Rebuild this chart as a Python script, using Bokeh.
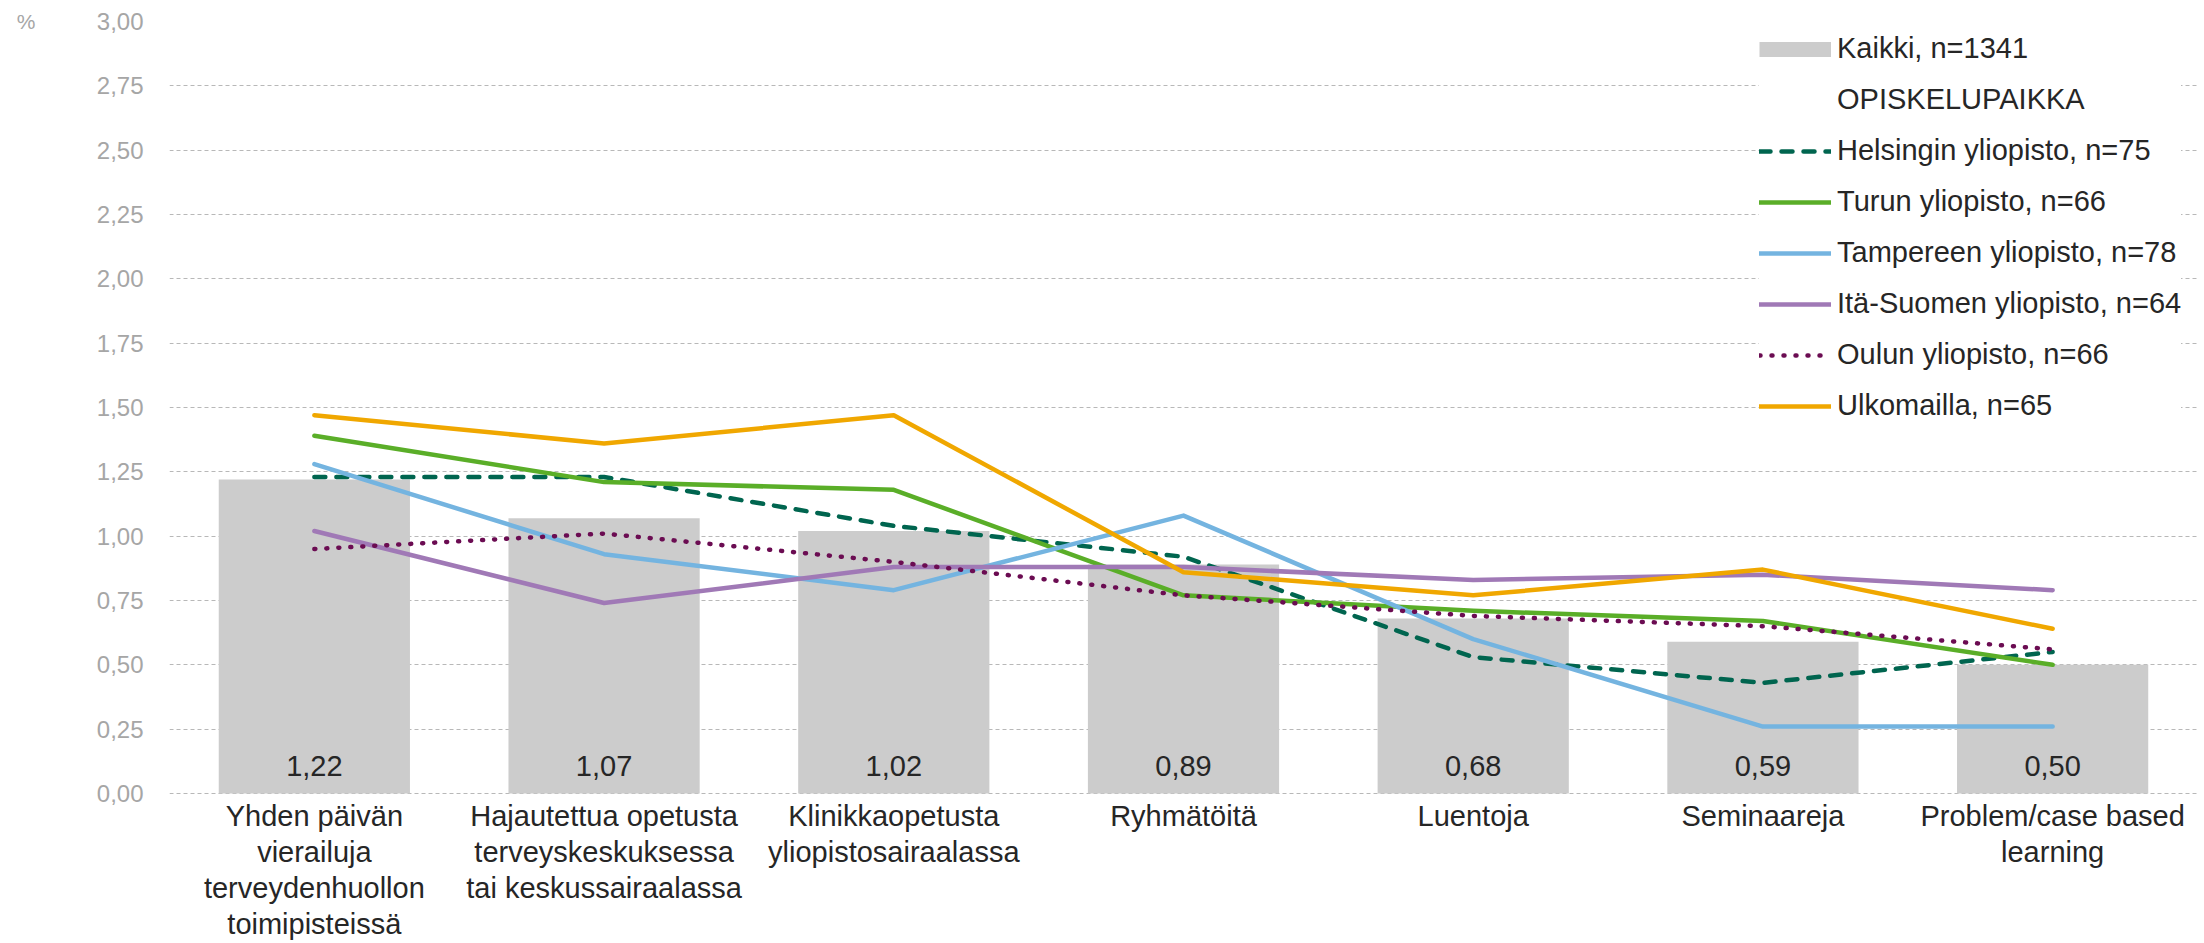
from bokeh.plotting import figure
from bokeh.models import (FactorRange, Range1d, FixedTicker, Legend, LegendItem,
                          ColumnDataSource, LinearAxis)
from bokeh.embed import file_html
from bokeh.resources import INLINE
from bokeh.core.properties import value

# ---------------- data ----------------
categories = [
    "Yhden päivän vierailuja terveydenhuollon toimipisteissä",
    "Hajautettua opetusta terveyskeskuksessa tai keskussairaalassa",
    "Klinikkaopetusta yliopistosairaalassa",
    "Ryhmätöitä",
    "Luentoja",
    "Seminaareja",
    "Problem/case based learning",
]
category_labels = [
    "Yhden päivän\nvierailuja\nterveydenhuollon\ntoimipisteissä",
    "Hajautettua opetusta\nterveyskeskuksessa\ntai keskussairaalassa",
    "Klinikkaopetusta\nyliopistosairaalassa",
    "Ryhmätöitä",
    "Luentoja",
    "Seminaareja",
    "Problem/case based\nlearning",
]
kaikki = [1.22, 1.07, 1.02, 0.89, 0.68, 0.59, 0.50]
helsinki = [1.23, 1.23, 1.04, 0.92, 0.53, 0.43, 0.55]
turku = [1.39, 1.21, 1.18, 0.77, 0.71, 0.67, 0.50]
tampere = [1.28, 0.93, 0.79, 1.08, 0.60, 0.26, 0.26]
ita_suomi = [1.02, 0.74, 0.88, 0.88, 0.83, 0.85, 0.79]
oulu = [0.95, 1.01, 0.90, 0.77, 0.69, 0.65, 0.56]
ulkomailla = [1.47, 1.36, 1.47, 0.86, 0.77, 0.87, 0.64]

kaikki_name = "Kaikki, n=1341"
group_header = "OPISKELUPAIKKA"
series_names = [
    "Helsingin yliopisto, n=75",
    "Turun yliopisto, n=66",
    "Tampereen yliopisto, n=78",
    "Itä-Suomen yliopisto, n=64",
    "Oulun yliopisto, n=66",
    "Ulkomailla, n=65",
]
y_ticks = [0.0, 0.25, 0.5, 0.75, 1.0, 1.25, 1.5, 1.75, 2.0, 2.25, 2.5, 2.75, 3.0]
y_tick_labels = ["0,00", "0,25", "0,50", "0,75", "1,00", "1,25", "1,50",
                 "1,75", "2,00", "2,25", "2,50", "2,75", "3,00"]
unit_label = "%"

# ---------------- styles / layout ----------------
FONT = "Liberation Sans"
series_values = [helsinki, turku, tampere, ita_suomi, oulu, ulkomailla]
series_colors = ["#00654f", "#5aae28", "#74b4e0", "#a079b6", "#6b0c52", "#f0a700"]
series_dash = ["11 11", "solid", "solid", "solid", "1 11", "solid"]

# value axis 0..3 occupies the upper 772 px of the 922 px frame;
# the strip below 0 carries the category names
Y_MIN = -0.583
CAT_LABEL_Y = -0.026
BAR_LABEL_Y = 0.107

p = figure(
    x_range=FactorRange(factors=categories),
    y_range=Range1d(Y_MIN, 3),
    width=2200, height=943,
    min_border_left=169, min_border_right=3, min_border_top=21, min_border_bottom=0,
    output_backend="svg", toolbar_location=None,
    outline_line_color=None, background_fill_color="white", border_fill_color="white",
)

p.xaxis.visible = False
p.xgrid.visible = False
p.ygrid.grid_line_color = "#b8b8b8"
p.ygrid.grid_line_dash = "4 3"
p.ygrid.grid_line_width = 1

ya = p.yaxis[0]
ya.ticker = FixedTicker(ticks=y_ticks)
ya.major_label_overrides = {t: l for t, l in zip(y_ticks, y_tick_labels)}
ya.axis_line_color = None
ya.major_tick_line_color = None
ya.minor_tick_line_color = None
ya.major_tick_out = 0
ya.major_tick_in = 0
ya.major_label_standoff = 26
ya.major_label_text_font = FONT
ya.major_label_text_font_size = "24px"
ya.major_label_text_color = "#a6a6a6"

# unit marker at the top of the value axis
unit_axis = LinearAxis(
    ticker=FixedTicker(ticks=[y_ticks[-1]]),
    major_label_overrides={y_ticks[-1]: unit_label},
    axis_line_color=None, major_tick_line_color=None, minor_tick_line_color=None,
    major_tick_out=0, major_tick_in=0,
    major_label_standoff=58,
    major_label_text_font=FONT, major_label_text_font_size="21px",
    major_label_text_color="#a6a6a6",
)
p.add_layout(unit_axis, "left")

src = ColumnDataSource(dict(
    cat=categories,
    cat_label=category_labels,
    kaikki=kaikki,
    label=[f"{v:.2f}".replace(".", ",") for v in kaikki],
))
bars = p.vbar(x="cat", top="kaikki", width=0.66, source=src,
              fill_color="#cccccc", line_color=None)
p.text(x="cat", y=BAR_LABEL_Y, text="label", source=src,
       text_align="center", text_baseline="middle",
       text_font=value(FONT), text_font_size="29px", text_color="#262626")
# category names below the value axis
p.text(x="cat", y=CAT_LABEL_Y, text="cat_label", source=src,
       text_align="center", text_baseline="top", text_line_height=1.12,
       text_font=value(FONT), text_font_size="29px", text_color="#262626")

line_renderers = []
for vals, col, dash in zip(series_values, series_colors, series_dash):
    r = p.line(x=categories, y=vals, line_color=col, line_width=4.5,
               line_dash=dash, line_cap="round", line_join="round")
    line_renderers.append(r)

# legend swatches: bar swatch and (empty) group header
nan_vals = [float("nan")] * len(categories)
kaikki_proxy = p.line(x=categories, y=nan_vals, line_color="#cccccc",
                      line_width=15, line_cap="butt")
header_proxy = p.line(x=categories, y=nan_vals, line_alpha=0)

items = [LegendItem(label=kaikki_name, renderers=[kaikki_proxy]),
         LegendItem(label=group_header, renderers=[header_proxy])]
items += [LegendItem(label=n, renderers=[r]) for n, r in zip(series_names, line_renderers)]

legend = Legend(
    items=items, location=(1590, 521), orientation="vertical",
    glyph_width=72, glyph_height=24, label_height=24, label_width=340,
    spacing=18, padding=10, margin=0, label_standoff=6,
    border_line_color=None, background_fill_color="white", background_fill_alpha=1,
    label_text_font=FONT, label_text_font_size="29px", label_text_color="#262626",
)
p.add_layout(legend)

open("out.html", "w").write(file_html(p, INLINE))
